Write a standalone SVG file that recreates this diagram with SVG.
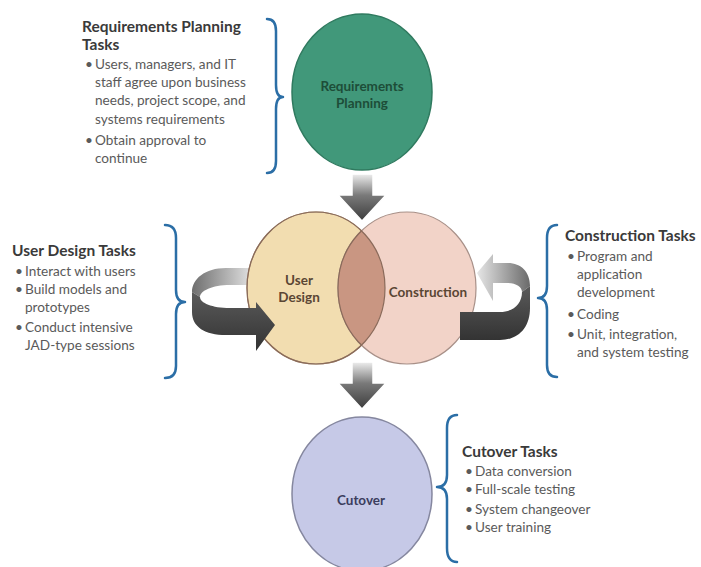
<svg xmlns="http://www.w3.org/2000/svg" width="701" height="567" viewBox="0 0 701 567">
<defs>
<style>
.t{font-family:Lato,"Liberation Sans",sans-serif;font-size:15.5px;font-weight:bold;fill:#3a3a3a}
.b{font-family:Lato,"Liberation Sans",sans-serif;font-size:13.6px;fill:#5a5a5a}
.c{font-family:Lato,"Liberation Sans",sans-serif;font-size:13.5px;font-weight:bold;text-anchor:middle}
.brace{fill:none;stroke:#2b6ea6;stroke-width:2.5;stroke-linecap:round;stroke-linejoin:round}
.arr{stroke:#fff;stroke-width:1.5}
</style>
<linearGradient id="gDown" x1="0" y1="0" x2="0" y2="1">
<stop offset="0" stop-color="#eeeeee"/>
<stop offset="0.45" stop-color="#7a7a7a"/>
<stop offset="1" stop-color="#3c3c3c"/>
</linearGradient>
<linearGradient id="gLight" x1="1" y1="0" x2="0" y2="0">
<stop offset="0" stop-color="#e2e2e2"/>
<stop offset="1" stop-color="#6e6e6e"/>
</linearGradient>
<linearGradient id="gLightR" x1="0" y1="0" x2="1" y2="0">
<stop offset="0" stop-color="#e6e6e6"/>
<stop offset="1" stop-color="#6a6a6a"/>
</linearGradient>
<linearGradient id="gDark" x1="0" y1="0" x2="0" y2="1">
<stop offset="0" stop-color="#5a5a5a"/>
<stop offset="1" stop-color="#333333"/>
</linearGradient>
<clipPath id="clipUD"><ellipse cx="316" cy="288" rx="69" ry="76"/></clipPath>
</defs>
<rect width="701" height="567" fill="#ffffff"/>

<g id="connectors">
<path id="loop-left-back" d="M 252 268 L 226 268 C 205 268 192 279 192 292 L 200 297 C 200 291 212 285 230 285 L 252 285 Z" fill="url(#gLight)"/>
</g>

<g id="requirements-planning">
<ellipse cx="362" cy="92" rx="70" ry="78" fill="#41987a" stroke="#2f7a5f" stroke-width="1.5"/>
<text class="c" x="362" y="91" fill="#1d4d38">Requirements</text>
<text class="c" x="362" y="108" fill="#1d4d38">Planning</text>
</g>

<g id="user-design">
<ellipse cx="316" cy="288" rx="69" ry="76" fill="#f2ddb0" stroke="#a89070" stroke-width="1.2"/>
</g>
<g id="construction">
<ellipse cx="407" cy="288" rx="69" ry="76" fill="#f2d3c8" stroke="#a89088" stroke-width="1.2"/>
<ellipse cx="407" cy="288" rx="69" ry="76" fill="#c99682" stroke="#8a6a5a" stroke-width="1.2" clip-path="url(#clipUD)"/>
<ellipse cx="316" cy="288" rx="69" ry="76" fill="none" stroke="#8a6a5a" stroke-width="1.2"/>
<text class="c" x="428" y="297" fill="#5a4634">Construction</text>
</g>
<g id="user-design-label">
<text class="c" x="299" y="285" fill="#5a4634" font-size="12.5">User</text>
<text class="c" x="299" y="302" fill="#5a4634" font-size="12.5">Design</text>
</g>

<g id="cutover">
<ellipse cx="362" cy="494" rx="70" ry="77" fill="#c6c9e7" stroke="#85879f" stroke-width="1.5"/>
<text class="c" x="361" y="505" fill="#3b3d5e">Cutover</text>
</g>

<g id="connectors-front">
<polygon class="arr" points="352,174 373,174 373,195 386,195 362,221 338,195 352,195" fill="url(#gDown)"/>
<polygon class="arr" points="352,362 373,362 373,383 386,383 362,409 338,383 352,383" fill="url(#gDown)"/>
<path d="M 192 292 L 192 312 C 192 327 205 335 226 335 L 256 335 L 256 351 L 275 325 L 256 302 L 256 308 L 230 308 C 212 308 200 303 200 297 Z" fill="url(#gDark)"/>
<path d="M 477 273 L 493 254 L 493 263 L 508 263 C 521 263 530 272 530 286 L 522 292 C 522 287 516 283 507 283 L 493 283 L 493 301 Z" fill="url(#gLightR)"/>
<path d="M 530 286 L 530 308 C 530 328 518 340 500 340 L 460 340 L 460 312 L 500 312 C 513 312 522 304 522 292 Z" fill="url(#gDark)"/>
</g>

<g id="braces">
<path class="brace" d="M 267 19 Q 276 19 276 31 L 276 85 Q 276 97 283 97 Q 276 97 276 109 L 276 161 Q 276 173 267 173"/>
<path class="brace" d="M 165 225 Q 176 225 176 238 L 176 290 Q 176 302 185 302 Q 176 302 176 314 L 176 366 Q 176 378 165 378"/>
<path class="brace" d="M 557 225 Q 547 225 547 238 L 547 286 Q 547 298 538 298 Q 547 298 547 310 L 547 365 Q 547 377 557 377"/>
<path class="brace" d="M 457 415 Q 447 415 447 428 L 447 475 Q 447 487 437 487 Q 447 487 447 499 L 447 548 Q 447 562 457 562"/>
</g>

<g id="requirements-tasks">
<text class="t" x="82" y="32">Requirements Planning</text>
<text class="t" x="82" y="50">Tasks</text>
<text class="b" x="85" y="69">•</text><text class="b" x="95" y="69">Users, managers, and IT</text>
<text class="b" x="95" y="87">staff agree upon business</text>
<text class="b" x="95" y="105">needs, project scope, and</text>
<text class="b" x="95" y="124">systems requirements</text>
<text class="b" x="85" y="145">•</text><text class="b" x="95" y="145">Obtain approval to</text>
<text class="b" x="95" y="163">continue</text>
</g>

<g id="user-design-tasks">
<text class="t" x="12" y="256">User Design Tasks</text>
<text class="b" x="15" y="276">•</text><text class="b" x="25" y="276">Interact with users</text>
<text class="b" x="15" y="294">•</text><text class="b" x="25" y="294">Build models and</text>
<text class="b" x="25" y="312">prototypes</text>
<text class="b" x="15" y="332">•</text><text class="b" x="25" y="332">Conduct intensive</text>
<text class="b" x="25" y="350">JAD-type sessions</text>
</g>

<g id="construction-tasks">
<text class="t" x="565" y="241">Construction Tasks</text>
<text class="b" x="567" y="261">•</text><text class="b" x="577" y="261">Program and</text>
<text class="b" x="577" y="279">application</text>
<text class="b" x="577" y="297">development</text>
<text class="b" x="567" y="319">•</text><text class="b" x="577" y="319">Coding</text>
<text class="b" x="567" y="339">•</text><text class="b" x="577" y="339">Unit, integration,</text>
<text class="b" x="577" y="357">and system testing</text>
</g>

<g id="cutover-tasks">
<text class="t" x="462" y="457">Cutover Tasks</text>
<text class="b" x="465" y="476">•</text><text class="b" x="475" y="476">Data conversion</text>
<text class="b" x="465" y="494">•</text><text class="b" x="475" y="494">Full-scale testing</text>
<text class="b" x="465" y="514">•</text><text class="b" x="475" y="514">System changeover</text>
<text class="b" x="465" y="532">•</text><text class="b" x="475" y="532">User training</text>
</g>
</svg>
